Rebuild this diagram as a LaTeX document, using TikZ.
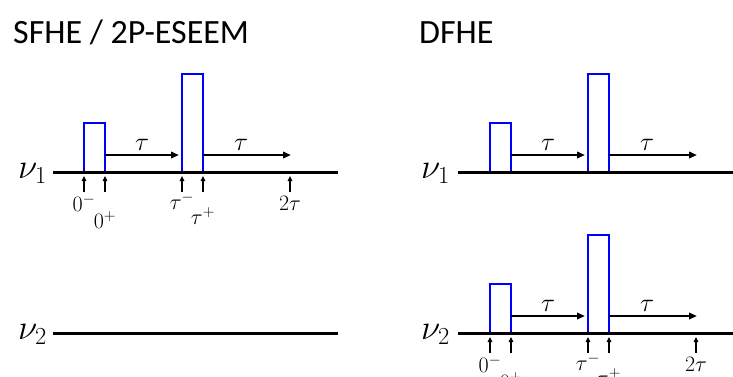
\documentclass[tikz,border=0pt]{standalone}
\usepackage{fix-cm}
\usepackage{fontspec}
\newfontfamily\titlefont{Carlito}
\usetikzlibrary{arrows.meta}
\tikzset{
  axis/.style={line width=3pt},
  pulse/.style={draw=blue, line width=2.7pt, minimum width=21pt, inner sep=0pt, outer sep=0pt, anchor=south west},
  delay/.style={line width=2pt, -{Triangle[length=8pt,width=6.5pt]}},
  tickarrow/.style={line width=1.5pt, -{Triangle[length=5pt,width=4.5pt]}},
  taulab/.style={inner sep=0pt, anchor=base, font=\fontsize{26}{30}\selectfont},
  ticklab/.style={inner sep=0pt, anchor=base, font=\fontsize{22}{26}\selectfont},
  nulab/.style={inner sep=0pt, anchor=base east, font=\fontsize{35}{40}\selectfont},
  titlelab/.style={inner sep=0pt, anchor=base west, font=\titlefont\fontsize{34}{40}\selectfont},
  seq/.pic={
    \node[pulse, minimum height=49pt] (-p1) at (0,0) {};
    \node[pulse, minimum height=98pt] (-p2) at (98,0) {};
    \coordinate (-a1s) at (21,-17);
    \coordinate (-a1e) at (95,-17);
    \coordinate (-a2s) at (119,-17);
    \coordinate (-a2e) at (207,-17);
    \draw[delay] (-a1s) -- (-a1e);
    \draw[delay] (-a2s) -- (-a2e);
    \node[taulab] (-t1) at (58,-22) {$\tau$};
    \node[taulab] (-t2) at (157,-22) {$\tau$};
  },
  marks/.pic={
    \foreach \x in {0,21,98,119,206} {\draw[tickarrow] (\x,20) -- (\x,4);}
    \node[ticklab] (-m1) at (0,39) {$0^-$};
    \node[ticklab] (-m2) at (21,56) {$0^+$};
    \node[ticklab] (-m3) at (98,37) {$\tau^-$};
    \node[ticklab] (-m4) at (119,52) {$\tau^+$};
    \node[ticklab] (-m5) at (206,38) {$2\tau$};
  }
}
\begin{document}
\begin{tikzpicture}[x=1pt,y=-1pt]
\useasboundingbox (0,0) rectangle (733,376);
\clip (0,0) rectangle (733,376);
% titles
\node[titlelab] (title1) at (13,43) {SFHE / 2P-ESEEM};
\node[titlelab] (title2) at (419,43) {DFHE};
% pulse sequences
\pic (L1) at (84,172) {seq};
\pic (L1m) at (84,172) {marks};
\pic (R1) at (490,172) {seq};
\pic (R2) at (490,333) {seq};
\pic (R2m) at (490,333) {marks};
% axes
\coordinate (L1s) at (53,172); \coordinate (L1e) at (338,172);
\coordinate (L2s) at (53,333); \coordinate (L2e) at (338,333);
\coordinate (R1s) at (458,172); \coordinate (R1e) at (733,172);
\coordinate (R2s) at (458,333); \coordinate (R2e) at (733,333);
\draw[axis] (L1s) -- (L1e);
\draw[axis] (L2s) -- (L2e);
\draw[axis] (R1s) -- (R1e);
\draw[axis] (R2s) -- (R2e);
% frequency labels
\node[nulab] (nuL1) at (47,178) {$\nu_1$};
\node[nulab] (nuL2) at (47,339) {$\nu_2$};
\node[nulab] (nuR1) at (450,178) {$\nu_1$};
\node[nulab] (nuR2) at (450,339) {$\nu_2$};
\end{tikzpicture}
\end{document}
